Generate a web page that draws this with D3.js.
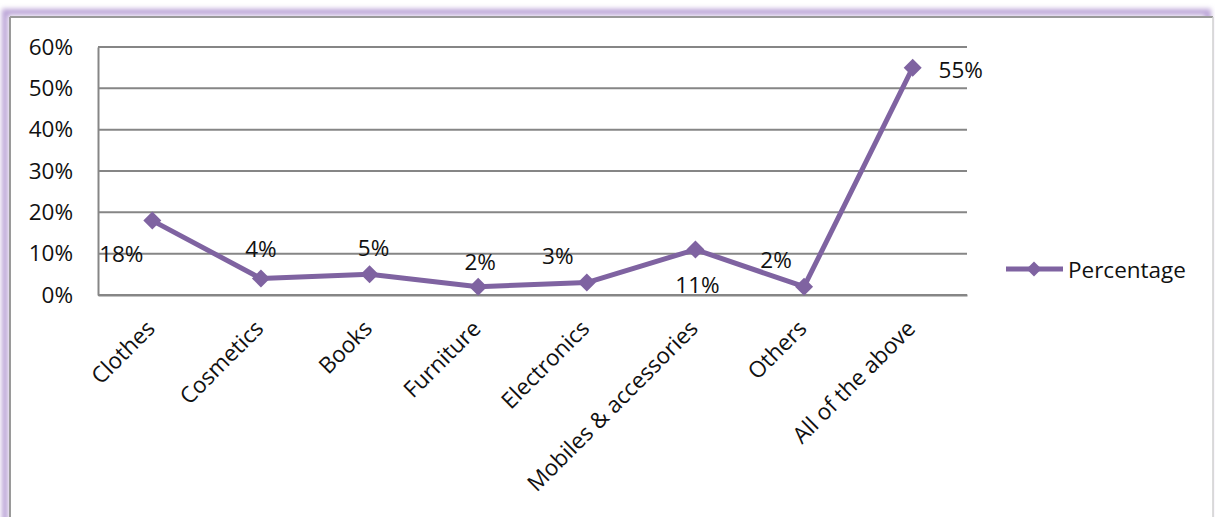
<!DOCTYPE html>
<html>
<head>
<meta charset="utf-8">
<script src="https://cdn.jsdelivr.net/npm/d3@7"></script>
<style>
  html, body { margin: 0; padding: 0; background: #fff; }
  svg { display: block; }
  text { font-family: "Open Sans", "Liberation Sans", sans-serif; fill: #111; }
</style>
</head>
<body>
<svg id="chart" width="1215" height="517"></svg>
<script>
// Chart data
const categories = ["Clothes", "Cosmetics", "Books", "Furniture", "Electronics",
                    "Mobiles & accessories", "Others", "All of the above"];
const percentage = [18, 4, 5, 2, 3, 11, 2, 55];
const yTicks = [0, 10, 20, 30, 40, 50, 60];
const seriesName = "Percentage";

// Layout for the value labels (offset from each point, in px)
const labelOffset = [[-31, 33], [0, -30], [4, -27], [2, -25], [-29, -27], [2, 35], [-28, -27], [48, 2]];

const W = 1215, H = 517;
const plot = { left: 98, right: 967, top: 47, bottom: 295 };
const purple = "#7f63a1";
const gridColor = "#868686";
const fontSize = "22.5px";

const svg = d3.select("#chart");

// Chart frame with soft purple glow along top and left edges
const defs = svg.append("defs");
const glow = defs.append("filter").attr("id", "glow")
  .attr("x", "-5%").attr("y", "-5%").attr("width", "110%").attr("height", "110%");
glow.append("feGaussianBlur").attr("stdDeviation", 2.5);

svg.append("rect")
  .attr("x", 5).attr("y", 12).attr("width", W - 12).attr("height", H)
  .attr("fill", "none").attr("stroke", "#b9a2d6").attr("stroke-width", 6)
  .attr("filter", "url(#glow)");
svg.append("rect")
  .attr("x", 10).attr("y", 17).attr("width", W - 12).attr("height", H)
  .attr("fill", "#fff");
svg.append("line")
  .attr("x1", 10).attr("x2", W - 2).attr("y1", 17).attr("y2", 17)
  .attr("stroke", "#9a9a9a").attr("stroke-width", 2);
svg.append("line")
  .attr("x1", 10).attr("x2", 10).attr("y1", 17).attr("y2", H)
  .attr("stroke", "#9a9a9a").attr("stroke-width", 2);
svg.append("line")
  .attr("x1", W - 2).attr("x2", W - 2).attr("y1", 17).attr("y2", H)
  .attr("stroke", "#d0d0d0").attr("stroke-width", 1.5);

// Scales
const x = d3.scaleBand().domain(categories).range([plot.left, plot.right]);
const y = d3.scaleLinear().domain([0, 60]).range([plot.bottom, plot.top]);
const cx = d => x(d) + x.bandwidth() / 2;

// Gridlines
svg.append("g").selectAll("line").data(yTicks).join("line")
  .attr("x1", plot.left).attr("x2", plot.right)
  .attr("y1", d => y(d)).attr("y2", d => y(d))
  .attr("stroke", gridColor).attr("stroke-width", 2);

// Y axis
const yAxis = svg.append("g")
  .attr("transform", `translate(${plot.left},0)`)
  .call(d3.axisLeft(y).tickValues(yTicks).tickFormat(d => d + "%").tickSize(0).tickPadding(25));
yAxis.select(".domain").attr("stroke", gridColor).attr("stroke-width", 2);
yAxis.selectAll("text").style("font-size", fontSize).attr("fill", "#111")
  .attr("font-family", null);

// X axis labels, rotated
const xAxis = svg.append("g")
  .attr("transform", `translate(0,${plot.bottom})`)
  .call(d3.axisBottom(x).tickSize(0).tickFormat(d => d));
xAxis.select(".domain").attr("stroke", gridColor).attr("stroke-width", 2);
xAxis.selectAll(".tick text")
  .style("font-size", fontSize).attr("fill", "#111")
  .attr("text-anchor", "end")
  .attr("dy", 0).attr("y", 0)
  .attr("transform", "translate(4,35) rotate(-45)");

// Line
const line = d3.line().x((d, i) => cx(categories[i])).y(d => y(d));
svg.append("path").datum(percentage)
  .attr("d", line).attr("fill", "none")
  .attr("stroke", purple).attr("stroke-width", 5).attr("stroke-linejoin", "round");

// Diamond markers
const diamond = "M0,-9L9,0L0,9L-9,0Z";
svg.append("g").selectAll("path").data(percentage).join("path")
  .attr("d", diamond)
  .attr("transform", (d, i) => `translate(${cx(categories[i])},${y(d)})`)
  .attr("fill", purple);

// Value labels
svg.append("g").selectAll("text").data(percentage).join("text")
  .attr("x", (d, i) => cx(categories[i]) + labelOffset[i][0])
  .attr("y", (d, i) => y(d) + labelOffset[i][1])
  .attr("text-anchor", "middle").attr("dominant-baseline", "central")
  .style("font-size", fontSize)
  .text(d => d + "%");

// Legend
const lg = svg.append("g").attr("transform", "translate(1006,269)");
lg.append("line").attr("x1", 0).attr("x2", 57).attr("y1", 0).attr("y2", 0)
  .attr("stroke", purple).attr("stroke-width", 5);
lg.append("path").attr("d", "M0,-7.5L7.5,0L0,7.5L-7.5,0Z")
  .attr("transform", "translate(28,0)").attr("fill", purple);
lg.append("text").attr("x", 62).attr("y", 0).attr("dominant-baseline", "central")
  .style("font-size", fontSize).text(seriesName);
</script>
</body>
</html>
